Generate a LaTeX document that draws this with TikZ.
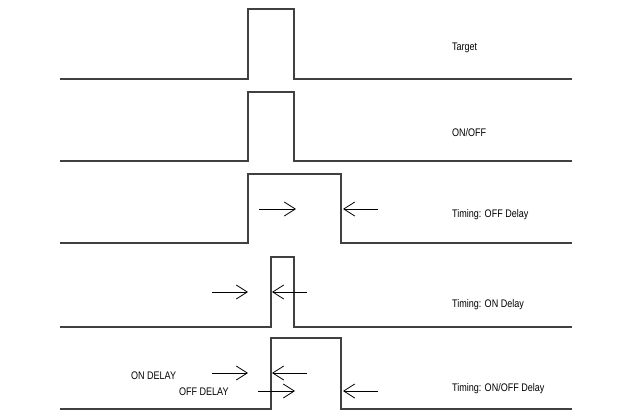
\documentclass[tikz,border=0pt]{standalone}
\usepackage{fontspec}
\setmainfont{Liberation Sans}
\usetikzlibrary{arrows.meta}
\begin{document}
\begin{tikzpicture}[x=1pt,y=-1pt,
  sig/.style={line width=1.2pt,black!75},
  arr/.style={line width=0.8pt,-{Straight Barb[length=11pt,width=14pt,line width=0.8pt]}},
  lbl/.style={anchor=west,font=\fontsize{11}{13}\selectfont,xscale=0.82,inner sep=0}]
\useasboundingbox (0,0) rectangle (629,417);
% row 1
\draw[sig] (60,79) -- (248,79) -- (248,9) -- (294,9) -- (294,79) -- (572,79);
\node[lbl] (t1) at (452,48) {Target};
% row 2
\draw[sig] (60,161) -- (248,161) -- (248,92) -- (294,92) -- (294,161) -- (572,161);
\node[lbl] (t2) at (452,133) {ON/OFF};
% row 3
\draw[sig] (60,243) -- (248,243) -- (248,174) -- (341,174) -- (341,243) -- (572,243);
\coordinate (a1) at (259,209); \coordinate (a2) at (296,209);
\coordinate (b1) at (378,209); \coordinate (b2) at (343,209);
\draw[arr] (a1) -- (a2);
\draw[arr] (b1) -- (b2);
\node[lbl] (t3) at (452,215) {Timing: OFF Delay};
% row 4
\draw[sig] (60,327) -- (271,327) -- (271,257) -- (294,257) -- (294,327) -- (572,327);
\coordinate (c1) at (212,292); \coordinate (c2) at (248,292);
\coordinate (d1) at (307,292); \coordinate (d2) at (272,292);
\draw[arr] (c1) -- (c2);
\draw[arr] (d1) -- (d2);
\node[lbl] (t4) at (452,305) {Timing: ON Delay};
% row 5
\draw[sig] (60,409) -- (271,409) -- (271,338) -- (341,338) -- (341,409) -- (572,409);
\coordinate (e1) at (212,373); \coordinate (e2) at (248,373);
\coordinate (f1) at (307,373); \coordinate (f2) at (272,373);
\coordinate (g1) at (258,391); \coordinate (g2) at (295,391);
\coordinate (h1) at (378,391); \coordinate (h2) at (343,391);
\draw[arr] (e1) -- (e2);
\draw[arr] (f1) -- (f2);
\draw[arr] (g1) -- (g2);
\draw[arr] (h1) -- (h2);
\node[lbl] (on) at (131,376) {ON DELAY};
\node[lbl] (off) at (179,392) {OFF DELAY};
\node[lbl] (t5) at (452,389) {Timing: ON/OFF Delay};
\end{tikzpicture}
\end{document}
